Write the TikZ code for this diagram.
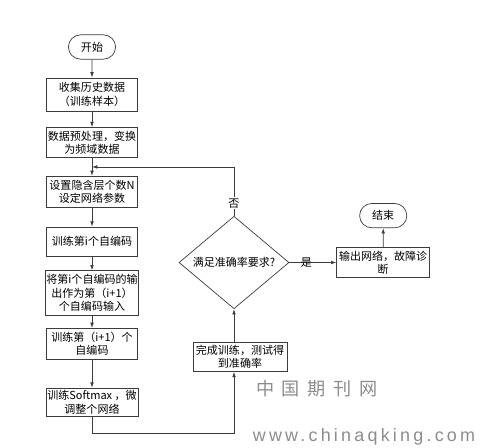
\documentclass[tikz,border=0pt]{standalone}
\usepackage{fontspec}
\setmainfont{Noto Sans CJK SC}
\newfontfamily\wmfont[LetterSpace=18]{Liberation Sans}
\newfontfamily\wmcjk[LetterSpace=42]{Noto Sans CJK SC}
\usetikzlibrary{positioning,arrows.meta,shapes.geometric,shapes.misc,calc}
\definecolor{linegray}{HTML}{3C3C3C}
\definecolor{markgray}{HTML}{8C8C8C}

\begin{document}
\begin{tikzpicture}[
  node distance=0.5cm,
  font=\fontsize{9.4}{11.5}\selectfont,
  block/.style={draw=linegray, line width=0.6pt, align=center, inner sep=1pt, minimum width=2.73cm, minimum height=0.9cm},
  terminal/.style={draw=linegray, line width=0.6pt, rounded rectangle, minimum width=1.65cm, minimum height=0.73cm},
  decision/.style={draw=linegray, line width=0.6pt, diamond, inner sep=0pt, minimum width=3.3cm, minimum height=2.01cm},
  arrow/.style={draw=linegray, line width=0.6pt, -{Latex[length=1.6mm,width=1.1mm]}},
  watermark/.style={text=markgray}
]
\useasboundingbox (0,0) rectangle (14.4,-13.41);

% main column
\node[terminal] (start) at (2.76,-1.41) {开始};
\node[block, minimum height=0.99cm, below=0.54cm of start] (collect) {收集历史数据\\（训练样本）};
\node[block, below=0.48cm of collect] (prep) {数据预处理，变换\\为频域数据};
\node[block, minimum height=0.93cm, below=0.54cm of prep] (setnet) {设置隐含层个数N\\设定网络参数};
\node[block, minimum height=0.87cm, below=0.57cm of setnet] (traini) {训练第i个自编码};
\node[block, minimum height=1.35cm, below=0.42cm of traini] (passi) {将第i个自编码的输\\出作为第（i+1）\\个自编码输入};
\node[block, minimum height=0.93cm, below=0.36cm of passi] (trainnext) {训练第（i+1）个\\自编码};
\node[block, minimum height=0.84cm, below=0.84cm of trainnext] (softmax) {训练Softmax ，微\\调整个网络};

% right side
\node[decision] (check) at (7.02,-7.875) {满足准确率要求?};
\node[block, minimum width=2.82cm, minimum height=0.87cm, below=0.99cm of check, xshift=0.18cm] (finish) {完成训练，测试得\\到准确率};
\node[block, minimum width=2.79cm, right=1.41cm of check] (outnet) {输出网络，故障诊\\断};
\node[terminal, above=0.57cm of outnet] (stop) {结束};

\draw[arrow] (start) -- (collect);
\draw[arrow] (collect) -- (prep);
\draw[arrow] (prep) -- (setnet);
\draw[arrow] (setnet) -- (traini);
\draw[arrow] (traini) -- (passi);
\draw[arrow] (passi) -- (trainnext);
\draw[arrow] (trainnext) -- (softmax);

\coordinate (bottomturn) at ($(softmax.south)+(0,-0.51)$);
\draw[arrow] (softmax.south) -- (bottomturn) -| (check.south |- finish.south);
\draw[arrow] (check.south |- finish.north) -- (check);
\coordinate (loopin) at ($(prep.south)!0.5!(setnet.north)$);
\draw[arrow] (check.north) |- node[pos=0.13, fill=white, inner sep=1pt] {否} (loopin);
\draw[arrow] (check) -- node[pos=0.36] {是} (outnet);
\draw[arrow] (outnet) -- (stop);

% watermark
\node[watermark, font=\wmcjk\fontsize{15.5}{15.5}\selectfont] (wmcn) at (9.5,-11.67) {中国期刊网};
\node[watermark, font=\wmfont\fontsize{15.3}{16}\selectfont] (wmurl) at (10.92,-13.11) {www.chinaqking.com};
\end{tikzpicture}
\end{document}
